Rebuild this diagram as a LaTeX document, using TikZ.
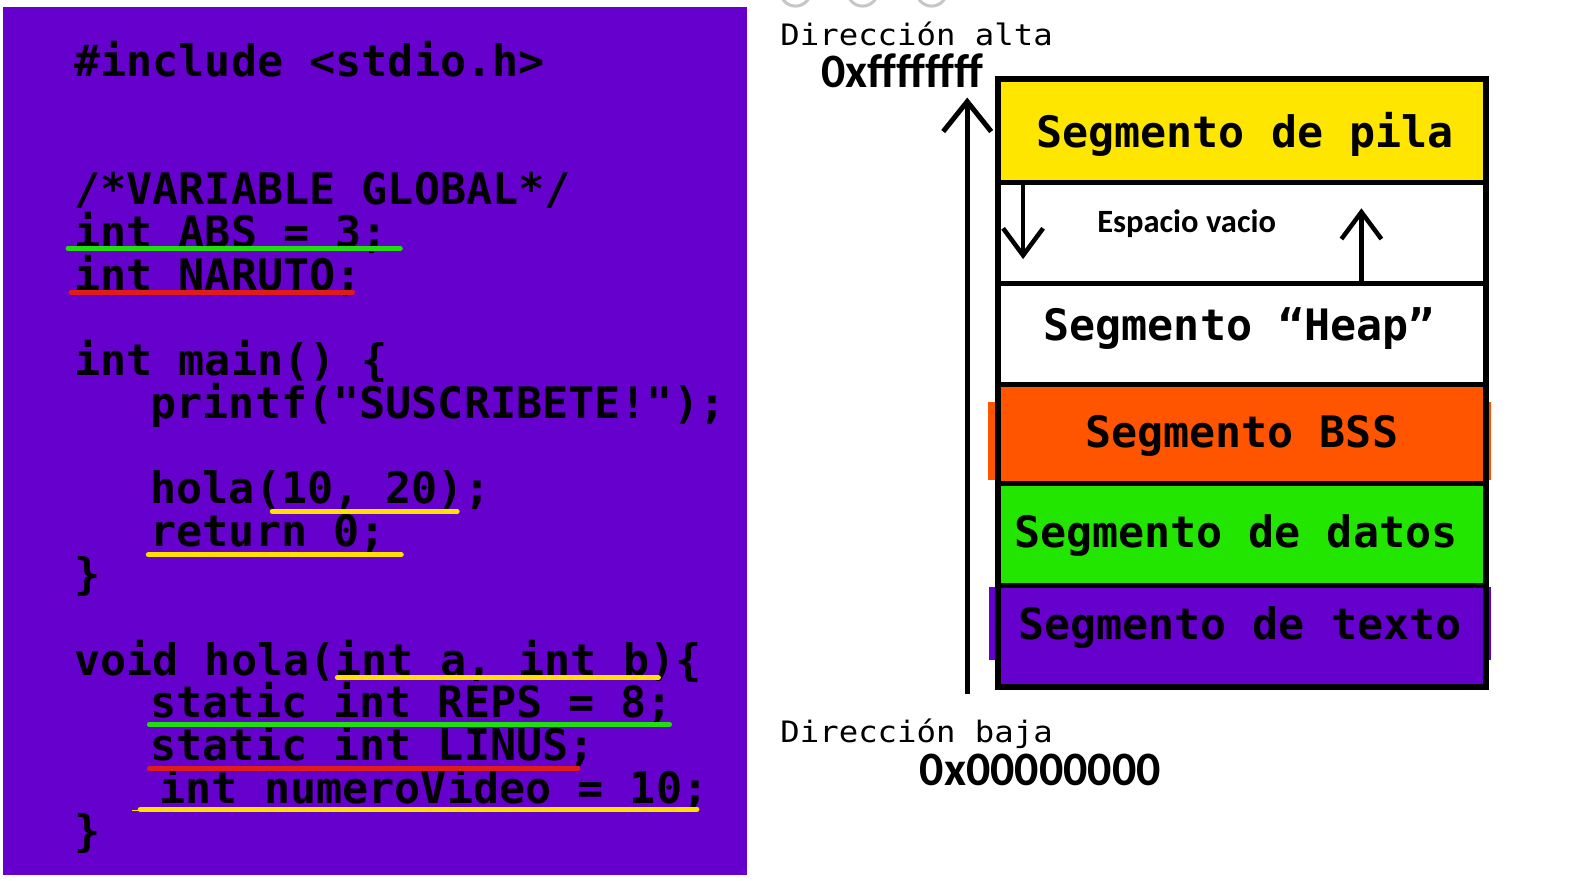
\documentclass[tikz,border=0pt]{standalone}
\usepackage{fontspec}
\usetikzlibrary{arrows.meta}
\newfontfamily\codefont{DejaVu Sans Mono}
\newfontfamily\lblfont{DejaVu Sans Mono}[FakeStretch=1.095]
\newfontfamily\hexfont{Carlito}
\definecolor{purp}{HTML}{6600CC}
\definecolor{segyellow}{HTML}{FFE600}
\definecolor{segorange}{HTML}{FF5500}
\definecolor{seggreen}{HTML}{22E600}
\definecolor{ulgreen}{HTML}{22DD11}
\definecolor{ulred}{HTML}{E01B1B}
\definecolor{ulyellow}{HTML}{FFE000}
\begin{document}
\begin{tikzpicture}[x=1.016pt,y=-1.016pt,
  code/.style={anchor=base west, inner sep=0pt, font={\codefont\bfseries\fontsize{43.4}{45}\selectfont}},
  seglbl/.style={anchor=base west, inner sep=0pt, font={\codefont\bfseries\fontsize{43.3}{45}\selectfont}},
  addr/.style={anchor=base west, inner sep=0pt, font={\lblfont\fontsize{29.5}{31}\selectfont}},
  hex/.style={anchor=base west, inner sep=0pt, font={\hexfont\bfseries\fontsize{48}{50}\selectfont}},
  uline/.style={line width=5pt, line cap=round},
  sep/.style={line width=5pt},
  bigarrow/.style={line width=5pt, -{Straight Barb[length=30pt,width=48pt,line width=5pt]}},
  smallarrow/.style={line width=4.5pt, -{Straight Barb[length=27pt,width=40pt,line width=4.5pt]}}]
\useasboundingbox (0,0) rectangle (1570.9,867.1);
\fill[white] (0,0) rectangle (1570.9,867.1);
% window decoration remnants
\foreach \cx in {783,849,917} \draw[gray!45, line width=3pt] (\cx,-9) circle[radius=15];
% code panel
\fill[purp] (3,7) rectangle (735,861);
\node[code] (l0) at (73,75) {\#include <stdio.h>};
\node[code] (l3) at (73,201.3) {/*VARIABLE GLOBAL*/};
\node[code] (l4) at (73,243.4) {int ABS = 3;};
\node[code] (l5) at (73,285.5) {int NARUTO;};
\node[code] (l7) at (73,369.7) {int main() \{};
\node[code] (l8) at (148,411.8) {printf("SUSCRIBETE!");};
\node[code] (l10) at (148,496) {hola(10, 20);};
\node[code] (l11) at (148,538.1) {return 0;};
\node[code] (l12) at (73,580.2) {\}};
\node[code] (l14) at (73,664.4) {void hola(int a, int b)\{};
\node[code] (l15) at (148,706.5) {static int REPS = 8;};
\node[code] (l16) at (148,748.6) {static int LINUS;};
\node[code] (l17) at (157,790.7) {int numeroVideo = 10;};
\node[code] (l18) at (73,832.8) {\}};
% underlines
\draw[uline, ulgreen] (67,244.5) -- (394,244.5);
\draw[uline, ulred] (70,287.5) -- (347,287.5);
\draw[uline, ulyellow] (268,503.5) -- (450,503.5);
\draw[uline, ulyellow] (146,546) -- (395,546);
\draw[uline, ulyellow] (332,667) -- (648,667);
\draw[uline, ulgreen] (147,713) -- (659,713);
\draw[uline, ulred] (147,756.5) -- (569,756.5);
\draw[uline, ulyellow] (138,796.5) -- (686,796.5);
\draw[line width=1.5pt, ulyellow] (130,797.5) -- (140,797.5);
% memory map
\fill[segorange] (972,396) rectangle (1468,472);
\fill[purp] (973,578) rectangle (1468,650);
\fill[segyellow] (982,78) rectangle (1463,180);
\fill[white] (982,180) rectangle (1463,378);
\fill[segorange] (982,378) rectangle (1463,476);
\fill[seggreen] (982,476) rectangle (1463,576);
\fill[purp] (982,576) rectangle (1463,676);
\draw[sep] (982,180) -- (1463,180);
\draw[sep] (982,279) -- (1463,279);
\draw[sep] (982,378) -- (1463,378);
\draw[sep] (982,476) -- (1463,476);
\draw[sep] (982,576) -- (1463,576);
\draw[line width=6pt] (982,78) rectangle (1463,676);
\node[seglbl] (pila) at (1020,145) {Segmento de pila};
\node[anchor=base, inner sep=0pt, font={\hexfont\bfseries\fontsize{32.5}{34}\selectfont}] (vacio) at (1168,229) {Espacio vacio};
\node[seglbl] (heap) at (1027,335) {Segmento “Heap”};
\node[seglbl] (bss) at (1068,440) {Segmento BSS};
\node[seglbl] (datos) at (998,539) {Segmento de datos};
\node[seglbl] (texto) at (1002,629) {Segmento de texto};
% labels
\node[addr] (alta) at (768,45) {Dirección alta};
\node[hex] (hexhi) at (808,86) {0xffffffff};
\node[addr] (baja) at (768,731) {Dirección baja};
\node[hex] (hexlo) at (905,773) {0x00000000};
% arrows
\coordinate (mainbot) at (952,683);
\coordinate (maintop) at (952,96);
\draw[bigarrow] (mainbot) -- (maintop);
\coordinate (dnstart) at (1007,182);
\coordinate (dnend) at (1007,255);
\draw[smallarrow] (dnstart) -- (dnend);
\coordinate (upstart) at (1340,278);
\coordinate (upend) at (1340,205);
\draw[smallarrow] (upstart) -- (upend);
\end{tikzpicture}
\end{document}
